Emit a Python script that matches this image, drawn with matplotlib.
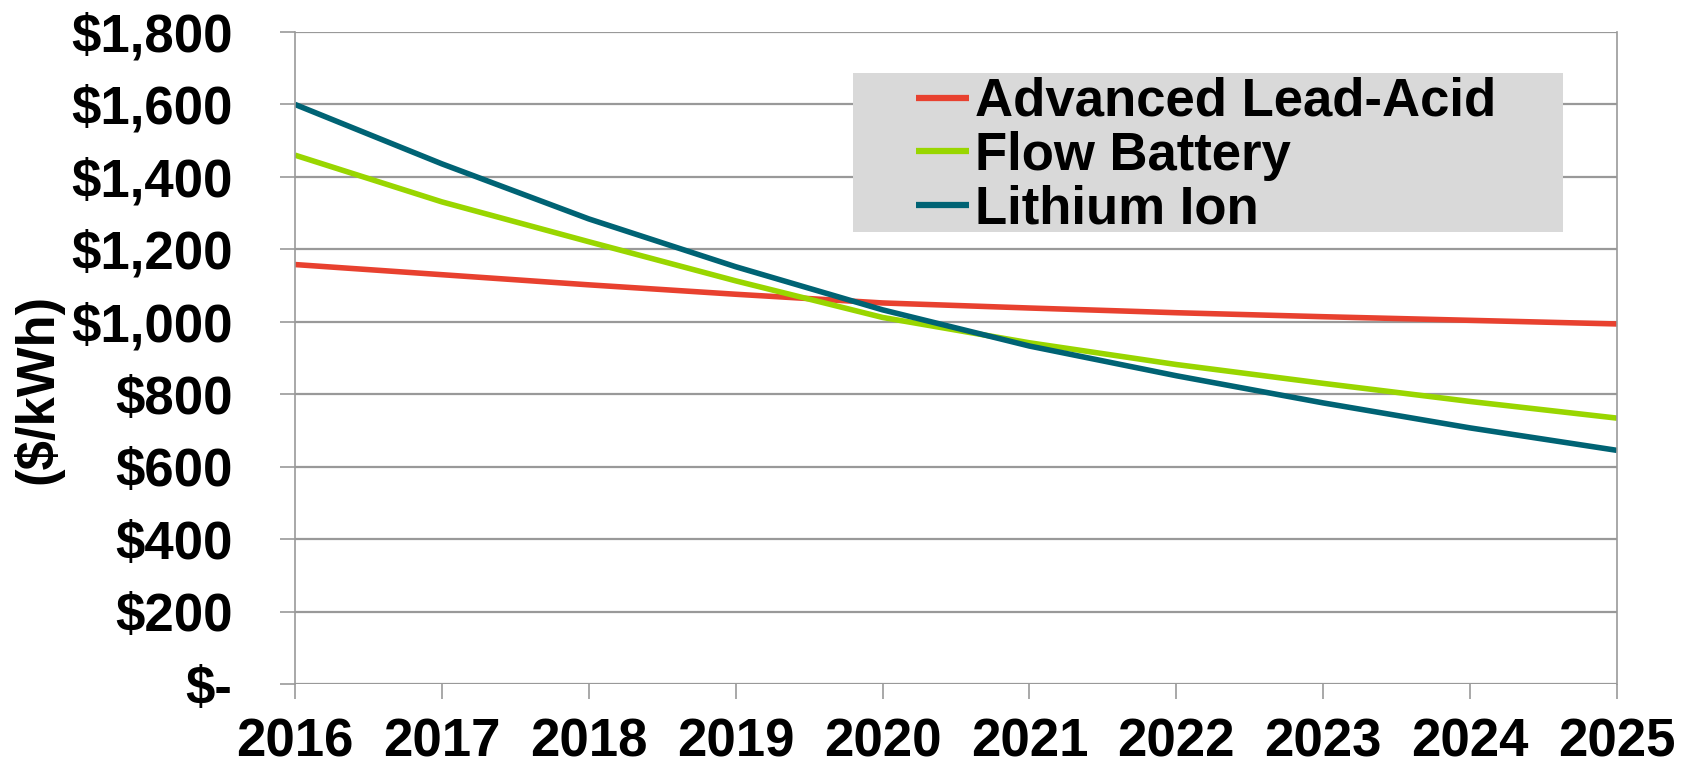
import matplotlib.pyplot as plt
from matplotlib.patches import Rectangle
from matplotlib.ticker import FuncFormatter

plt.rcParams['font.family'] = ['Liberation Sans', 'DejaVu Sans']
plt.rcParams['font.weight'] = 'bold'

# data
years = [2016, 2017, 2018, 2019, 2020, 2021, 2022, 2023, 2024, 2025]
lead_acid = [1158, 1130, 1102, 1076, 1052, 1038, 1025, 1014, 1004, 994]
flow_battery = [1460, 1331, 1221, 1113, 1012, 942, 882, 830, 780, 734]
lithium_ion = [1600, 1436, 1284, 1152, 1033, 933, 851, 776, 707, 645]

labels = ["Advanced Lead-Acid", "Flow Battery", "Lithium Ion"]
colors = ["#E8412F", "#99D600", "#006374"]

W, H = 1694, 768
FS = 38


def dollar(v, pos):
    if v == 0:
        return "$-"
    return f"${v:,.0f}"


fig = plt.figure(figsize=(W / 100, H / 100), dpi=100)
ax = fig.add_axes([295 / W, 1 - 684 / H, 1322 / W, 652 / H])

for serie, lab, col in zip([lead_acid, flow_battery, lithium_ion], labels, colors):
    ax.plot(years, serie, color=col, lw=4, label=lab, solid_capstyle='butt')

ax.set_xlim(2016, 2025)
ax.set_ylim(0, 1800)
ax.set_yticks(range(0, 1801, 200))
ax.set_xticks(years)
ax.yaxis.set_major_formatter(FuncFormatter(dollar))
ax.grid(axis='y', color='#999999', lw=1.6)
ax.set_axisbelow(True)

for s in ['top', 'bottom']:
    ax.spines[s].set_visible(False)
for s in ['left', 'right']:
    ax.spines[s].set_color('#999999')
    ax.spines[s].set_linewidth(1.2)

ax.tick_params(axis='y', length=11, width=1.2, color='#999999', labelsize=FS, pad=34)
ax.tick_params(axis='x', length=11, width=1.2, color='#999999', labelsize=FS, pad=13)
fig.text(38 / W, 1 - 389 / H, "($/kWh)", rotation=90, fontsize=FS, fontweight='bold',
         ha='center', va='center')

# szare tło legendy
ax.add_patch(Rectangle((853 / W, 1 - 232 / H), 710 / W, 159 / H,
                       transform=fig.transFigure, facecolor='#D9D9D9',
                       edgecolor='none', zorder=3, clip_on=False))
leg = ax.legend(loc='upper left', bbox_to_anchor=(916 / W, 1 - 77 / H),
                bbox_transform=fig.transFigure, frameon=False,
                fontsize=FS, handlelength=1.0, handletextpad=0.12,
                labelspacing=0.07, borderpad=0, borderaxespad=0)
leg.set_zorder(5)
for h in leg.get_lines():
    h.set_linewidth(4.5)

fig.savefig("out.png", dpi=100)
